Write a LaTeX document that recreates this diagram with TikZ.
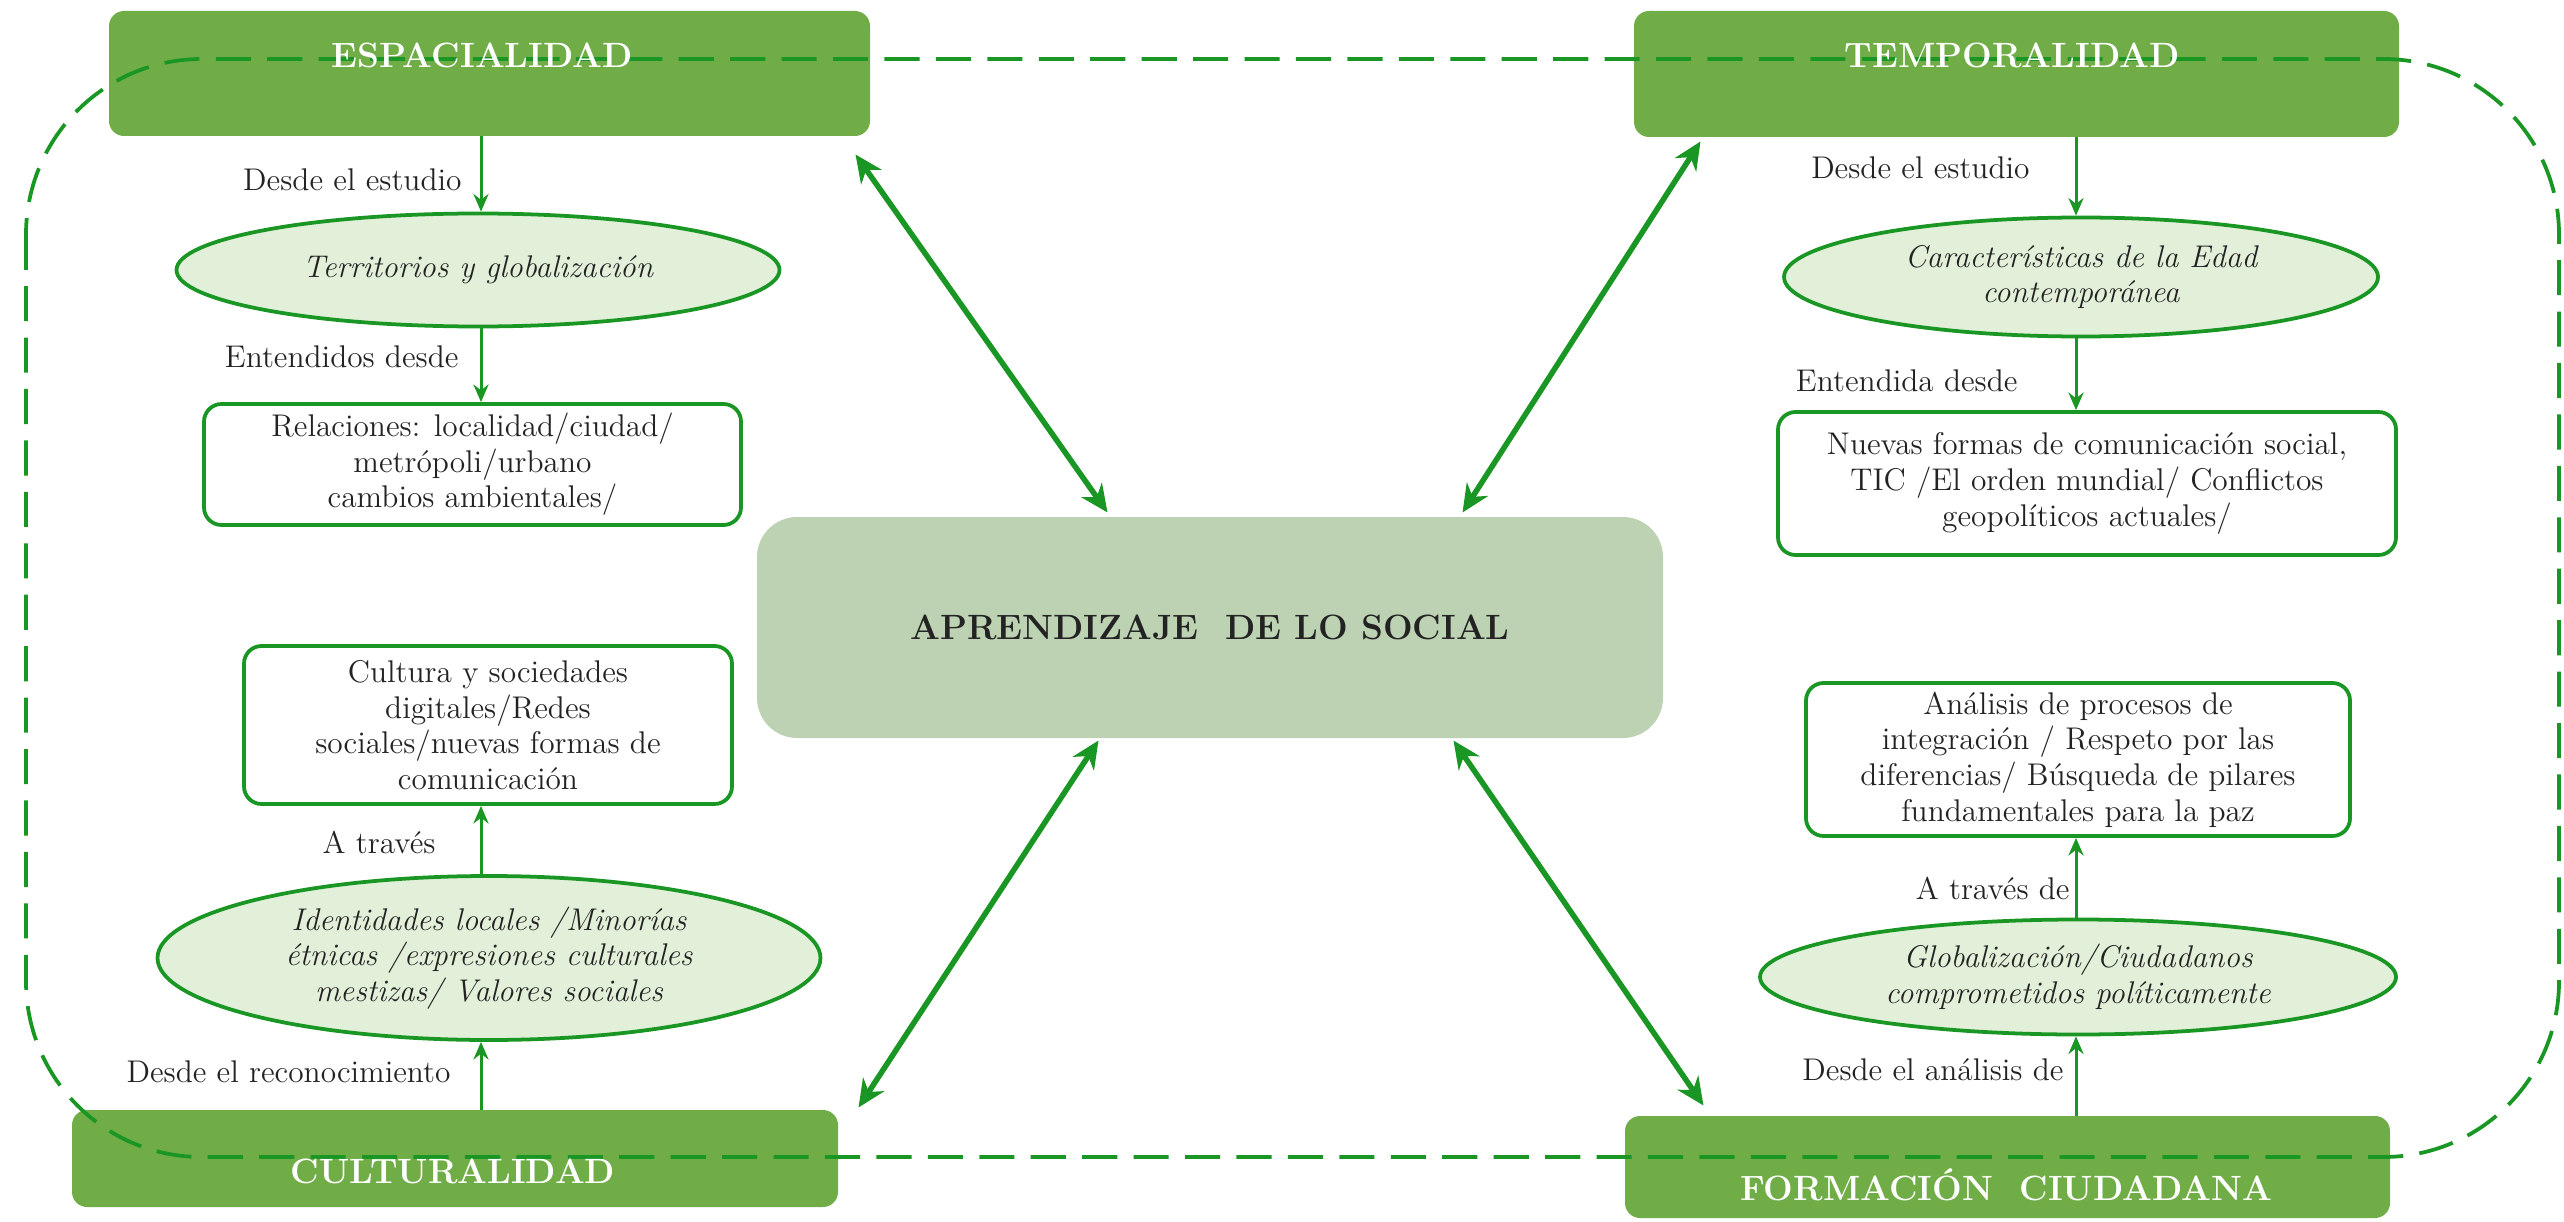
\documentclass[tikz,border=0pt]{standalone}
\usepackage{fontspec}
\usetikzlibrary{shapes.geometric,arrows.meta,calc}
\definecolor{hdrgreen}{RGB}{112,173,71}
\definecolor{cengreen}{RGB}{188,210,178}
\definecolor{ellfill}{RGB}{226,239,217}
\definecolor{lgreen}{RGB}{25,150,35}
\definecolor{txt}{RGB}{35,35,35}
\newcommand{\pxl}[1]{#1*0.014cm}
\begin{document}
\begin{tikzpicture}[x=0.014cm,y=-0.014cm,
  hdr/.style={draw=none,fill=hdrgreen,rounded corners=6pt,inner sep=0pt},
  hdrtext/.style={text=white,font=\fontsize{14}{16}\selectfont\bfseries,inner sep=0pt},
  cen/.style={fill=cengreen,rounded corners=16pt,inner sep=0pt,font=\fontsize{14}{16}\selectfont\bfseries,text=txt},
  ell/.style={ellipse,draw=lgreen,line width=1.5pt,fill=ellfill,inner sep=0pt,align=center,font=\fontsize{12.5}{14.2}\selectfont\itshape,text=txt},
  wbox/.style={draw=lgreen,line width=1.5pt,fill=white,rounded corners=7pt,inner sep=0pt,align=center,font=\fontsize{12.5}{14.2}\selectfont,text=txt},
  lbl/.style={anchor=east,inner sep=0pt,font=\fontsize{12.5}{14.2}\selectfont,text=txt},
  arr/.style={draw=lgreen,line width=1.2pt,-{Stealth[length=7pt,width=6pt]}},
  darr/.style={draw=lgreen,line width=2.2pt,{Stealth[length=11pt,width=10pt]}-{Stealth[length=11pt,width=10pt]}},
  border/.style={draw=lgreen,line width=1.5pt,dash pattern=on 14pt off 6.5pt,rounded corners=70pt}
]
\useasboundingbox (0,0) rectangle (2564,1222);

% header boxes
\node[hdr,minimum width=\pxl{761},minimum height=\pxl{125}] (esp) at (489.5,73.5) {};
\node[hdr,minimum width=\pxl{765},minimum height=\pxl{126}] (tem) at (2016.5,74) {};
\node[hdr,minimum width=\pxl{766},minimum height=\pxl{97}] (cul) at (455,1158.5) {};
\node[hdr,minimum width=\pxl{765},minimum height=\pxl{102}] (for) at (2007.5,1167) {};

% central box
\node[cen,minimum width=\pxl{906},minimum height=\pxl{221}] (cent) at (1210,627.5) {APRENDIZAJE\ \ DE LO SOCIAL};

% ellipses
\node[ell,minimum width=\pxl{603},minimum height=\pxl{113}] (e1) at (478,270) {Territorios y globalización};
\node[ell,minimum width=\pxl{594},minimum height=\pxl{119}] (e2) at (2081,277) {Características de la Edad\\contemporánea};
\node[ell,minimum width=\pxl{663},minimum height=\pxl{164}] (e3) at (489,958) {Identidades locales /Minorías\\étnicas /expresiones culturales\\mestizas/ Valores sociales};
\node[ell,minimum width=\pxl{636},minimum height=\pxl{115}] (e4) at (2078,977) {Globalización/Ciudadanos\\comprometidos políticamente};

% white boxes
\node[wbox,minimum width=\pxl{537},minimum height=\pxl{121}] (b1) at (472.5,464.5) {Relaciones: localidad/ciudad/\\metrópoli/urbano\\cambios ambientales/};
\node[wbox,minimum width=\pxl{618},minimum height=\pxl{143}] (b2) at (2087,483.5) {Nuevas formas de comunicación social,\\TIC /El orden mundial/ Conflictos\\geopolíticos actuales/};
\node[wbox,minimum width=\pxl{488},minimum height=\pxl{158}] (b3) at (488,725) {Cultura y sociedades\\digitales/Redes\\sociales/nuevas formas de\\comunicación};
\node[wbox,minimum width=\pxl{544},minimum height=\pxl{153}] (b4) at (2078,759.5) {Análisis de procesos de\\integración / Respeto por las\\diferencias/ Búsqueda de pilares\\fundamentales para la paz};

% vertical arrows
\coordinate (xl) at (481,0);
\coordinate (xr) at (2076,0);
\draw[arr] (esp.south -| xl) -- (e1.north -| xl);
\draw[arr] (e1.south -| xl) -- (b1.north -| xl);
\draw[arr] (e3.north -| xl) -- (b3.south -| xl);
\draw[arr] (cul.north -| xl) -- (e3.south -| xl);
\draw[arr] (tem.south -| xr) -- (e2.north -| xr);
\draw[arr] (e2.south -| xr) -- (b2.north -| xr);
\draw[arr] (e4.north -| xr) -- (b4.south -| xr);
\draw[arr] (for.north -| xr) -- (e4.south -| xr);

% labels
\node[lbl] (l1) at (462,180) {Desde el estudio};
\node[lbl] (l2) at (459,357) {Entendidos desde};
\node[lbl] (l3) at (436,842) {A través};
\node[lbl] (l4) at (451,1072) {Desde el reconocimiento};
\node[lbl] (l5) at (2030,168) {Desde el estudio};
\node[lbl] (l6) at (2018,381) {Entendida desde};
\node[lbl] (l7) at (2070,888) {A través de};
\node[lbl] (l8) at (2064,1070) {Desde el análisis de};

% double arrows
\draw[darr] ($(esp.south east)+(-15,18)$) -- ($(cent.north west)+(351,-4)$);
\draw[darr] ($(tem.south west)+(67,4)$) -- ($(cent.north east)+(-201,-4)$);
\draw[darr] ($(cul.north east)+(20,-2)$) -- ($(cent.south west)+(342,2)$);
\draw[darr] ($(for.north west)+(79,-10)$) -- ($(cent.south east)+(-210,2)$);

% dashed frame
\draw[border] (26,59) rectangle (2559,1157);

% header texts
\node[hdrtext] (espt) at (482,55) {ESPACIALIDAD};
\node[hdrtext] (temt) at (2012,55) {TEMPORALIDAD};
\node[hdrtext] (cult) at (453,1171) {CULTURALIDAD};
\node[hdrtext] (fort) at (2006,1185) {FORMACIÓN\ \ CIUDADANA};
\end{tikzpicture}
\end{document}
